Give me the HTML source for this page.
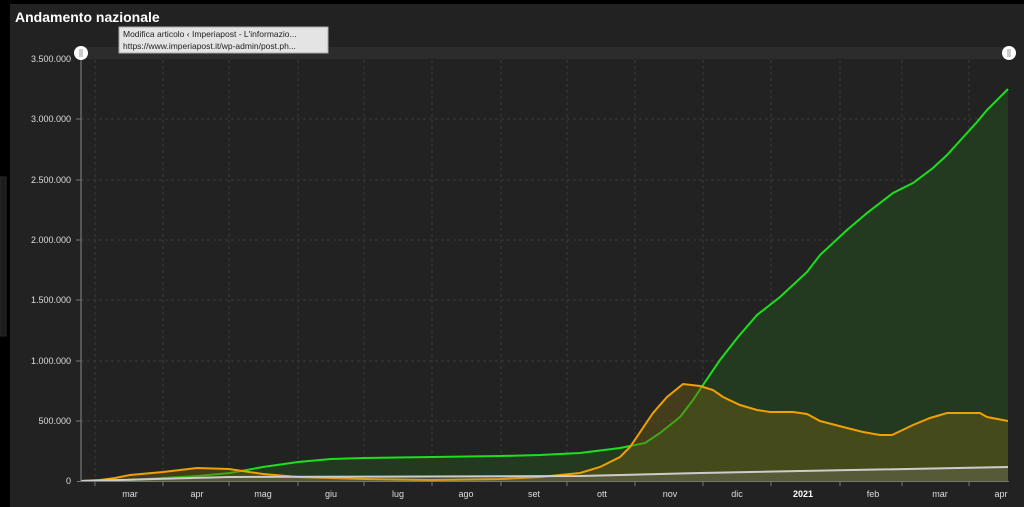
<!DOCTYPE html>
<html><head><meta charset="utf-8"><style>
html,body{margin:0;padding:0;background:#000;width:1024px;height:507px;overflow:hidden;font-family:"Liberation Sans",sans-serif}
</style></head><body>
<svg width="1024" height="507" xmlns="http://www.w3.org/2000/svg" font-family="Liberation Sans, sans-serif">
<rect x="0" y="0" width="1024" height="507" fill="#000"/>
<rect x="10" y="4" width="1014" height="503" fill="#222"/>
<rect x="0" y="177" width="6" height="159" fill="#1c1c1c" stroke="#2a2a2a"/>
<text x="15" y="22" fill="#fff" font-size="14" font-weight="bold">Andamento nazionale</text>
<rect x="81" y="47" width="928" height="12" fill="#2c2c2c"/>
<g stroke="#3a3a3a" stroke-dasharray="3,3" stroke-width="1">
<line x1="81" y1="119" x2="1009" y2="119"/><line x1="81" y1="180" x2="1009" y2="180"/>
<line x1="81" y1="240" x2="1009" y2="240"/><line x1="81" y1="300" x2="1009" y2="300"/>
<line x1="81" y1="361" x2="1009" y2="361"/><line x1="81" y1="421" x2="1009" y2="421"/>
<line x1="95" y1="60" x2="95" y2="481"/><line x1="163" y1="60" x2="163" y2="481"/>
<line x1="229" y1="60" x2="229" y2="481"/><line x1="298" y1="60" x2="298" y2="481"/>
<line x1="364" y1="60" x2="364" y2="481"/><line x1="432" y1="60" x2="432" y2="481"/>
<line x1="501" y1="60" x2="501" y2="481"/><line x1="567" y1="60" x2="567" y2="481"/>
<line x1="635" y1="60" x2="635" y2="481"/><line x1="703" y1="60" x2="703" y2="481"/>
<line x1="771" y1="60" x2="771" y2="481"/><line x1="840" y1="60" x2="840" y2="481"/>
<line x1="902" y1="60" x2="902" y2="481"/><line x1="969" y1="60" x2="969" y2="481"/>
</g>
<polygon fill="#233a21" points="81,481 130,480 163,478 197,476 230,473 263,467 298,462 331,459 364,458 432,457 501,456 540,455 580,453 620,448 645,443 660,433 680,417 693,400 703,385 720,360 738,337 757,315 780,297 807,272 820,255 847,230 867,213 893,193 913,183 933,168 947,155 967,133 977,122 987,110 1008,89 1008,481"/>
<polyline fill="none" stroke="#1be01b" stroke-width="2" points="81,481 130,480 163,478 197,476 230,473 263,467 298,462 331,459 364,458 432,457 501,456 540,455 580,453 620,448 645,443 660,433 680,417 693,400 703,385 720,360 738,337 757,315 780,297 807,272 820,255 847,230 867,213 893,193 913,183 933,168 947,155 967,133 977,122 987,110 1008,89"/>
<polygon fill="rgba(110,95,20,0.45)" points="81,481 100,480 115,478 130,475 163,472 197,468 229,469 263,474 298,477 364,479 432,480 501,479 540,477 580,473 600,467 620,457 630,447 653,413 667,397 683,384 700,386 713,390 723,397 740,405 757,410 770,412 793,412 807,414 820,421 847,428 863,432 880,435 892,435 913,425 930,418 947,413 980,413 987,417 1008,421 1008,481"/>
<polyline fill="none" stroke="#f0a000" stroke-width="2" points="81,481 100,480 115,478 130,475 163,472 197,468 229,469 263,474 298,477 364,479 432,480 501,479 540,477 580,473 600,467 620,457 630,447 653,413 667,397 683,384 700,386 713,390 723,397 740,405 757,410 770,412 793,412 807,414 820,421 847,428 863,432 880,435 892,435 913,425 930,418 947,413 980,413 987,417 1008,421"/>
<polygon fill="rgba(140,140,140,0.25)" points="81,481 230,477 580,476 700,473 1008,467 1008,481"/>
<polyline fill="none" stroke="#ccc" stroke-width="2" points="81,481 230,477 580,476 700,473 1008,467"/>
<line x1="81" y1="53" x2="81" y2="481" stroke="#888" stroke-width="1"/>
<line x1="77" y1="481.5" x2="1009" y2="481.5" stroke="#777" stroke-width="1"/>
<g stroke="#777">
<line x1="95" y1="481" x2="95" y2="486"/><line x1="163" y1="481" x2="163" y2="486"/><line x1="229" y1="481" x2="229" y2="486"/><line x1="298" y1="481" x2="298" y2="486"/><line x1="364" y1="481" x2="364" y2="486"/><line x1="432" y1="481" x2="432" y2="486"/><line x1="501" y1="481" x2="501" y2="486"/><line x1="567" y1="481" x2="567" y2="486"/><line x1="635" y1="481" x2="635" y2="486"/><line x1="703" y1="481" x2="703" y2="486"/><line x1="771" y1="481" x2="771" y2="486"/><line x1="840" y1="481" x2="840" y2="486"/><line x1="902" y1="481" x2="902" y2="486"/><line x1="969" y1="481" x2="969" y2="486"/>
<line x1="76" y1="119" x2="81" y2="119"/><line x1="76" y1="180" x2="81" y2="180"/><line x1="76" y1="240" x2="81" y2="240"/><line x1="76" y1="300" x2="81" y2="300"/><line x1="76" y1="361" x2="81" y2="361"/><line x1="76" y1="421" x2="81" y2="421"/>
</g>
<g fill="#ddd" font-size="9" text-anchor="end">
<text x="71" y="62">3.500.000</text><text x="71" y="122">3.000.000</text><text x="71" y="183">2.500.000</text><text x="71" y="243">2.000.000</text><text x="71" y="303">1.500.000</text><text x="71" y="364">1.000.000</text><text x="71" y="424">500.000</text><text x="71" y="484">0</text>
</g>
<g fill="#ddd" font-size="9" text-anchor="middle">
<text x="130" y="497">mar</text><text x="197" y="497">apr</text><text x="263" y="497">mag</text><text x="331" y="497">giu</text><text x="398" y="497">lug</text><text x="466" y="497">ago</text><text x="534" y="497">set</text><text x="602" y="497">ott</text><text x="670" y="497">nov</text><text x="737" y="497">dic</text><text x="803" y="497" font-weight="bold" fill="#fff">2021</text><text x="873" y="497">feb</text><text x="940" y="497">mar</text><text x="1001" y="497">apr</text>
</g>
<circle cx="81" cy="53" r="7" fill="#fff"/><line x1="80" y1="49" x2="80" y2="57" stroke="#999"/><line x1="82" y1="49" x2="82" y2="57" stroke="#999"/>
<circle cx="1009" cy="53" r="7" fill="#fff"/><line x1="1008" y1="49" x2="1008" y2="57" stroke="#999"/><line x1="1010" y1="49" x2="1010" y2="57" stroke="#999"/>
<rect x="119" y="27" width="209" height="26" fill="#e4e4e4" stroke="#aaa"/>
<text x="123" y="37" font-size="8.5" fill="#222">Modifica articolo ‹ Imperiapost - L'informazio...</text>
<text x="123" y="49" font-size="8.5" fill="#222">https://www.imperiapost.it/wp-admin/post.ph...</text>
</svg>
</body></html>
